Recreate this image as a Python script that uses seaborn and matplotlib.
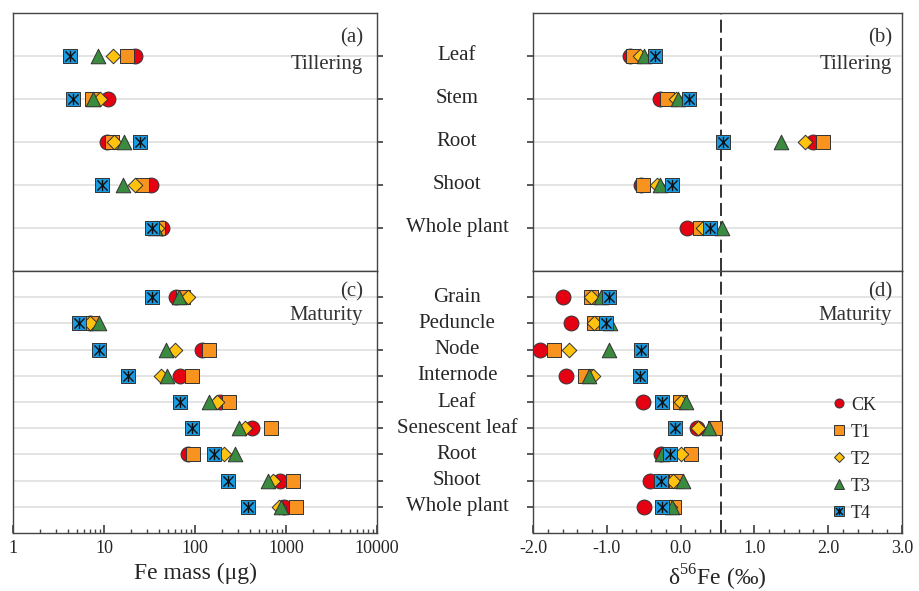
import numpy as np
import pandas as pd
import matplotlib
matplotlib.use("Agg")
import matplotlib.pyplot as plt
import matplotlib.transforms as mtransforms
from matplotlib.path import Path
from matplotlib.lines import Line2D
from matplotlib.ticker import LogLocator, MultipleLocator, NullFormatter
import seaborn as sns

# ---------------- data ----------------
treatments = ["CK", "T1", "T2", "T3", "T4"]
till_parts = ["Leaf", "Stem", "Root", "Shoot", "Whole plant"]
mat_parts = ["Grain", "Peduncle", "Node", "Internode", "Leaf",
             "Senescent leaf", "Root", "Shoot", "Whole plant"]

# Fe mass (ug) at tillering
till_mass_CK = [21.9, 11.0, 10.7, 32.6, 43.7]
till_mass_T1 = [17.7, 7.4, 12.2, 26.0, 39.6]
till_mass_T2 = [12.7, 9.0, 12.9, 21.9, 38.0]
till_mass_T3 = [8.5, 7.6, 16.6, 16.0, 36.5]
till_mass_T4 = [4.2, 4.6, 24.9, 9.6, 34.0]

# Fe mass (ug) at maturity
mat_mass_CK = [61.3, 7.0, 118, 68.4, 188, 420, 84.5, 859, 957]
mat_mass_T1 = [74.4, 7.3, 143, 93.6, 238, 684, 94.5, 1183, 1277]
mat_mass_T2 = [84.5, 7.1, 61, 42.3, 173, 354, 208, 713, 844]
mat_mass_T3 = [66.7, 8.7, 47.6, 49.6, 143, 307, 275, 640, 881]
mat_mass_T4 = [34.0, 5.3, 8.8, 18.2, 68.4, 93.6, 163, 232, 385]

# delta56Fe (permil) at tillering
till_d56_CK = [-0.69, -0.28, 1.80, -0.53, 0.08]
till_d56_T1 = [-0.64, -0.19, 1.93, -0.51, 0.26]
till_d56_T2 = [-0.55, -0.06, 1.68, -0.32, 0.30]
till_d56_T3 = [-0.49, -0.03, 1.36, -0.28, 0.56]
till_d56_T4 = [-0.35, 0.11, 0.57, -0.12, 0.40]

# delta56Fe (permil) at maturity
mat_d56_CK = [-1.60, -1.49, -1.91, -1.55, -0.51, 0.22, -0.26, -0.42, -0.49]
mat_d56_T1 = [-1.22, -1.18, -1.72, -1.30, -0.01, 0.46, 0.14, -0.06, -0.09]
mat_d56_T2 = [-1.22, -1.17, -1.51, -1.19, 0.00, 0.24, 0.01, -0.10, -0.15]
mat_d56_T3 = [-1.08, -0.96, -0.97, -1.24, 0.07, 0.38, -0.25, 0.03, -0.12]
mat_d56_T4 = [-0.97, -1.01, -0.53, -0.55, -0.25, -0.08, -0.14, -0.26, -0.25]

soil_d56 = 0.55


def long_df(parts, series):
    rows = []
    for t, vals in zip(treatments, series):
        for i, (p, v) in enumerate(zip(parts, vals)):
            rows.append({"part": p, "pos": i, "treat": t, "value": v})
    return pd.DataFrame(rows)


df_a = long_df(till_parts, [till_mass_CK, till_mass_T1, till_mass_T2, till_mass_T3, till_mass_T4])
df_c = long_df(mat_parts, [mat_mass_CK, mat_mass_T1, mat_mass_T2, mat_mass_T3, mat_mass_T4])
df_b = long_df(till_parts, [till_d56_CK, till_d56_T1, till_d56_T2, till_d56_T3, till_d56_T4])
df_d = long_df(mat_parts, [mat_d56_CK, mat_d56_T1, mat_d56_T2, mat_d56_T3, mat_d56_T4])

# ---------------- style ----------------
sns.set_theme(style="ticks")
plt.rcParams["font.family"] = ["Liberation Serif", "DejaVu Serif"]
plt.rcParams["mathtext.fontset"] = "custom"
plt.rcParams["mathtext.rm"] = "Liberation Serif"

colors = {"CK": "#e50012", "T1": "#f7931e", "T2": "#ffc20e",
          "T3": "#3a8a3f", "T4": "#1a9ae0"}
markers = {"CK": "o", "T1": "s", "T2": "D", "T3": "^", "T4": "s"}
sizes = {"CK": 115, "T1": 100, "T2": 55, "T3": 110, "T4": 100}
star = Path([(-1, -1), (1, 1), (-1, 1), (1, -1), (0, -1.1), (0, 1.1)],
            [Path.MOVETO, Path.LINETO, Path.MOVETO, Path.LINETO, Path.MOVETO, Path.LINETO])
edge = "#333333"

fig = plt.figure(figsize=(9.19, 5.91), dpi=100)
axA = fig.add_axes([0.01415, 0.5415, 0.3961, 0.4365])
axC = fig.add_axes([0.01415, 0.0981, 0.3961, 0.4433])
axB = fig.add_axes([0.5800, 0.5415, 0.4015, 0.4365])
axD = fig.add_axes([0.5800, 0.0981, 0.4015, 0.4433])


def draw(ax, df):
    for t in treatments:
        sub = df[df["treat"] == t]
        sns.scatterplot(data=sub, x="value", y="pos", ax=ax, color=colors[t],
                        marker=markers[t], s=sizes[t], edgecolor=edge,
                        linewidth=0.7, legend=False, zorder=3)
        if t == "T4":
            sns.scatterplot(data=sub, x="value", y="pos", ax=ax, marker=star,
                            s=65, color="#111111", edgecolor="#111111",
                            linewidth=1.0, legend=False, zorder=4)
    ax.set_xlabel("")
    ax.set_ylabel("")


for ax, df, n in [(axA, df_a, 5), (axC, df_c, 9), (axB, df_b, 5), (axD, df_d, 9)]:
    draw(ax, df)
    ax.set_ylim(n, -1)
    ax.set_yticks(range(n))
    ax.set_yticklabels([])
    for y in range(n):
        ax.axhline(y, color="#e4e4e4", lw=1.4, zorder=1)
    for s in ax.spines.values():
        s.set_color("#444444")
        s.set_linewidth(1.0)

# left column: log Fe mass
for ax in (axA, axC):
    ax.set_xscale("log")
    ax.set_xlim(1, 10000)
    ax.yaxis.tick_right()
    ax.tick_params(axis="y", direction="out", length=4, color="#444444")
ticks_mass = [1, 10, 100, 1000, 10000]
axC.set_xticks(ticks_mass, labels=[str(v) for v in ticks_mass])
axC.xaxis.set_minor_locator(LogLocator(base=10, subs=np.arange(2, 10)))
axC.xaxis.set_minor_formatter(NullFormatter())
axC.tick_params(axis="x", which="major", direction="in", length=6, labelsize=13, pad=5, color="#444444")
axC.tick_params(axis="x", which="minor", direction="in", length=3, color="#444444")
axA.tick_params(axis="x", which="both", length=0, labelbottom=False)
axC.set_xlabel("Fe mass (\u03bcg)", fontsize=17, labelpad=4)

# right column: delta56Fe
for ax in (axB, axD):
    ax.set_xlim(-2.0, 3.0)
    ax.axvline(soil_d56, color="#111111", lw=1.2, ls=(0, (7.8, 3.2)), zorder=2)
    ax.tick_params(axis="y", direction="out", length=4, color="#444444")
ticks_d = [-2, -1, 0, 1, 2, 3]
axD.set_xticks(ticks_d, labels=["%.1f" % v for v in ticks_d])
axD.xaxis.set_minor_locator(MultipleLocator(0.2))
axD.tick_params(axis="x", which="major", direction="in", length=6, labelsize=13, pad=5, color="#444444")
axD.tick_params(axis="x", which="minor", direction="in", length=3, color="#444444")
axB.tick_params(axis="x", which="both", length=0, labelbottom=False)
axD.set_xlabel("\u03b4$^{56}$Fe (\u2030)", fontsize=17, labelpad=4)

# category names between the columns
for ax, parts in [(axB, till_parts), (axD, mat_parts)]:
    tr = mtransforms.blended_transform_factory(ax.transAxes, ax.transData)
    for i, p in enumerate(parts):
        ax.text(-0.206, i, p, transform=tr, ha="center", va="center", fontsize=15)

# panel tags
for ax, tag, stage, xr, y1, y2 in [(axA, "(a)", "Tillering", 0.962, 0.905, 0.80),
                                   (axB, "(b)", "Tillering", 0.973, 0.905, 0.80),
                                   (axC, "(c)", "Maturity", 0.962, 0.92, 0.83),
                                   (axD, "(d)", "Maturity", 0.973, 0.92, 0.83)]:
    ax.text(xr, y1, tag, transform=ax.transAxes, ha="right", va="center", fontsize=15, color="#333333")
    ax.text(xr, y2, stage, transform=ax.transAxes, ha="right", va="center", fontsize=15, color="#333333")

# legend in panel (d)
handles = []
for t in treatments:
    h = Line2D([], [], ls="none", marker=markers[t], color=colors[t],
               markeredgecolor=edge, markeredgewidth=0.7,
               markersize=6.5 if t != "T2" else 5)
    if t == "T4":
        h = (h, Line2D([], [], ls="none", marker=star, color="#111111", markersize=5.5, markeredgewidth=1.0))
    handles.append(h)
axD.legend(handles, treatments, loc="upper left", bbox_to_anchor=(0.81, 0.52),
           frameon=False, fontsize=13, labelspacing=0.55, handlelength=0.8,
           handletextpad=0.25, borderpad=0, borderaxespad=0)

fig.savefig("out.png", dpi=100)
